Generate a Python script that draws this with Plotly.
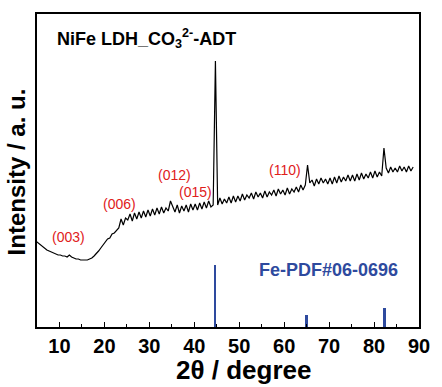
import numpy as np
import plotly.graph_objects as go

two_theta = np.round(np.arange(4.7, 88.71, 0.5), 1)
intensity = [
    86, 84, 82, 80, 79, 77, 76, 75, 74, 73, 72,
    72, 71, 71, 70, 72, 70, 69, 68, 68, 67,
    67, 67, 67, 68, 69, 71, 73, 76, 79, 82,
    85, 88, 89, 93, 94, 97, 99, 108, 102, 109,
    107, 113, 106, 114, 108, 115, 109, 116, 110, 117,
    111, 118, 112, 119, 113, 120, 114, 119, 116, 126,
    121, 115, 122, 114, 121, 116, 122, 115, 123, 117,
    123, 117, 124, 118, 125, 119, 126, 120, 122, 266,
    122, 129, 123, 128, 124, 130, 124, 131, 125, 131,
    126, 133, 127, 132, 129, 134, 128, 135, 130, 134,
    129, 136, 130, 135, 132, 137, 131, 138, 133, 137,
    132, 139, 133, 138, 135, 140, 135, 142, 137, 142,
    162, 144, 147, 141, 148, 143, 149, 144, 148, 143,
    149, 143, 150, 144, 151, 145, 150, 146, 152, 146,
    152, 146, 153, 147, 154, 148, 153, 149, 155, 149,
    156, 150, 155, 151, 179, 159, 154, 160, 155, 159,
    155, 161, 156, 160, 155, 161, 156, 160,
]

# Reference pattern Fe PDF#06-0696
fe_pos = [44.7, 65.0, 82.4]
fe_height = [62, 12, 19]

# Miller index labels
hkl_labels = ["(003)", "(006)", "(012)", "(015)", "(110)"]
hkl_x = [12.0, 23.3, 35.5, 40.2, 60.2]
hkl_y = [90, 123, 152, 135, 157]

fig = go.Figure()
fig.add_trace(go.Scatter(x=two_theta, y=intensity, mode="lines",
                         line=dict(color="black", width=1.2), hoverinfo="skip"))
fig.add_trace(go.Bar(x=fe_pos, y=fe_height, width=0.4,
                     marker=dict(color="#2E4A9E", line=dict(width=0))))

ann = []
for t, x, y in zip(hkl_labels, hkl_x, hkl_y):
    ann.append(dict(x=x, y=y, xref="x", yref="y", text=t, showarrow=False,
                    font=dict(family="Arial", size=14, color="#E0201B")))
ann.append(dict(x=8.9, y=289, xref="x", yref="y", xanchor="left",
                text="NiFe LDH_CO<sub>3</sub><sup>2-</sup>-ADT", showarrow=False,
                font=dict(family="Arial", size=18, color="black", weight="bold")))
ann.append(dict(x=69.85, y=57, xref="x", yref="y",
                text="Fe-PDF#06-0696", showarrow=False,
                font=dict(family="Arial", size=18, color="#2E4A9E", weight="bold")))
ann.append(dict(x=(247 - 37) / 389, y=(327 - 370) / 313, xref="paper", yref="paper",
                yanchor="middle", text="2θ / degree", showarrow=False,
                font=dict(family="Arial", size=26, color="black", weight="bold")))
ann.append(dict(x=(16 - 37) / 389, y=(327 - 172) / 313, xref="paper", yref="paper",
                xanchor="center", yanchor="middle",
                text="Intensity / a. u.", showarrow=False, textangle=-90,
                font=dict(family="Arial", size=24, color="black", weight="bold")))

fig.update_layout(
    width=442, height=387,
    margin=dict(l=37, r=16, t=14, b=60),
    paper_bgcolor="white", plot_bgcolor="white",
    showlegend=False, bargap=0,
    annotations=ann,
)
fig.update_xaxes(range=[5, 90], dtick=10, tick0=0, ticks="inside", ticklen=5,
                 tickwidth=1.2, tickcolor="black",
                 minor=dict(dtick=5, tick0=0, ticks="inside", ticklen=3, tickcolor="black", tickwidth=1.2),
                 showline=True, linecolor="black", linewidth=1.5, mirror=True,
                 showgrid=False, zeroline=False,
                 tickfont=dict(family="Arial", size=20, color="black", weight="bold"))
fig.update_yaxes(range=[0, 313], showticklabels=False, ticks="",
                 showline=True, linecolor="black", linewidth=1.5, mirror=True,
                 showgrid=False, zeroline=False)

fig.write_html("out.html", config={"displayModeBar": False},
               post_script="document.body.style.margin='0';")
